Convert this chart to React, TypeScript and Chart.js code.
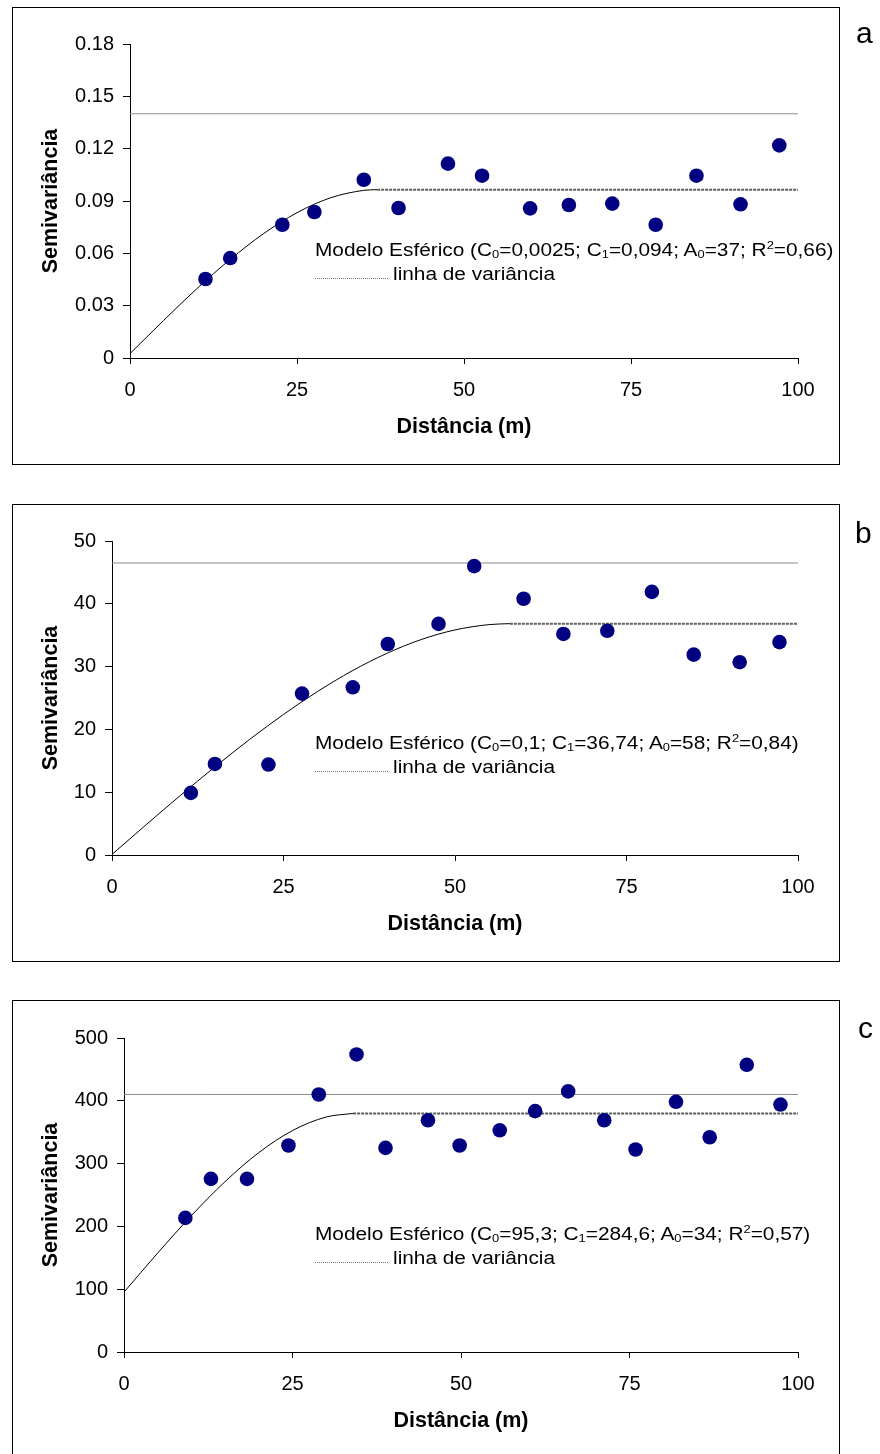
import React, { useEffect, useRef } from 'react';
import { Chart, registerables } from 'chart.js';

Chart.register(...registerables);

const FONT = '"Liberation Sans", Arial, Helvetica, sans-serif';

// Shared x axis (lag distance, m)
const xTicks = [0, 25, 50, 75, 100];

// ---------- Panel a ----------
const lagA = [11.3, 15.0, 22.8, 27.6, 35.0, 40.2, 47.6, 52.7, 59.9, 65.7, 72.2, 78.7, 84.8, 91.4, 97.2];
const semiA = [0.0453, 0.0573, 0.0764, 0.0837, 0.1022, 0.086, 0.1114, 0.1045, 0.0858, 0.0877, 0.0885, 0.0764, 0.1045, 0.0881, 0.1219];
const modelXA = [0, 5, 10, 15, 20, 25, 30, 35, 37];
const modelYA = [0.0025, 0.0214, 0.0397, 0.0565, 0.0713, 0.0833, 0.0918, 0.0961, 0.0965];
const rangeA = 37;
const sillA = 0.0965;
const varianceA = 0.14;
const yTicksA = [0, 0.03, 0.06, 0.09, 0.12, 0.15, 0.18];
const yLabelsA = ['0', '0.03', '0.06', '0.09', '0.12', '0.15', '0.18'];

// ---------- Panel b ----------
const lagB = [11.5, 15.0, 22.8, 27.7, 35.1, 40.2, 47.6, 52.8, 60.0, 65.8, 72.2, 78.7, 84.8, 91.5, 97.3];
const semiB = [9.9, 14.5, 14.4, 25.7, 26.7, 33.6, 36.8, 46.0, 40.8, 35.2, 35.7, 41.9, 31.9, 30.7, 33.9];
const modelXB = [0, 5, 10, 15, 20, 25, 30, 35, 40, 45, 50, 55, 58];
const modelYB = [0.1, 4.84, 9.51, 14.03, 18.35, 22.38, 26.06, 29.32, 32.08, 34.28, 35.84, 36.69, 36.84];
const rangeB = 58;
const sillB = 36.84;
const varianceB = 46.5;
const yTicksB = [0, 10, 20, 30, 40, 50];
const yLabelsB = ['0', '10', '20', '30', '40', '50'];

// ---------- Panel c ----------
const lagC = [9.1, 12.9, 18.25, 24.4, 28.9, 34.5, 38.8, 45.1, 49.8, 55.75, 61.0, 65.9, 71.25, 75.9, 81.9, 86.9, 92.4, 97.4];
const semiC = [213.5, 275.7, 275.7, 328.8, 410, 473.8, 325, 369, 328.8, 353, 383.5, 415, 369, 322.4, 398.4, 342, 457.3, 394];
const modelXC = [0, 5, 10, 15, 20, 25, 30, 34];
const modelYC = [95.3, 157.6, 217.2, 271.4, 317.5, 352.6, 374.2, 379.9];
const rangeC = 34;
const sillC = 379.9;
const varianceC = 410;
const yTicksC = [0, 100, 200, 300, 400, 500];
const yLabelsC = ['0', '100', '200', '300', '400', '500'];

type PanelCfg = {
  letter: string;
  boxTop: number;
  boxHeight: number;
  chartTop: number;
  chartLeft: number;
  plotHeight: number;
  lag: number[];
  semi: number[];
  modelX: number[];
  modelY: number[];
  range: number;
  sill: number;
  variance: number;
  yTicks: number[];
  yLabels: string[];
  legendBaseline: number;
  letterBaseline: number;
  letterLeft: number;
  legend: React.ReactNode;
};

const Sub = ({ children }: { children: React.ReactNode }) => (
  <span style={{ fontSize: '0.62em', verticalAlign: '-0.22em', lineHeight: 0 }}>{children}</span>
);
const Sup = ({ children }: { children: React.ReactNode }) => (
  <span style={{ fontSize: '0.62em', verticalAlign: '0.62em', lineHeight: 0 }}>{children}</span>
);

const panels: PanelCfg[] = [
  {
    letter: 'a', boxTop: 7, boxHeight: 458, chartTop: 44, chartLeft: 130, plotHeight: 314,
    lag: lagA, semi: semiA, modelX: modelXA, modelY: modelYA, range: rangeA, sill: sillA, variance: varianceA,
    yTicks: yTicksA, yLabels: yLabelsA, legendBaseline: 256, letterBaseline: 43.5, letterLeft: 856,
    legend: (<>Modelo Esférico (C<Sub>0</Sub>=0,0025; C<Sub>1</Sub>=0,094; A<Sub>0</Sub>=37; R<Sup>2</Sup>=0,66)</>),
  },
  {
    letter: 'b', boxTop: 504, boxHeight: 458, chartTop: 541, chartLeft: 112, plotHeight: 314,
    lag: lagB, semi: semiB, modelX: modelXB, modelY: modelYB, range: rangeB, sill: sillB, variance: varianceB,
    yTicks: yTicksB, yLabels: yLabelsB, legendBaseline: 749, letterBaseline: 543.5, letterLeft: 855,
    legend: (<>Modelo Esférico (C<Sub>0</Sub>=0,1; C<Sub>1</Sub>=36,74; A<Sub>0</Sub>=58; R<Sup>2</Sup>=0,84)</>),
  },
  {
    letter: 'c', boxTop: 1000, boxHeight: 470, chartTop: 1038, chartLeft: 124, plotHeight: 314,
    lag: lagC, semi: semiC, modelX: modelXC, modelY: modelYC, range: rangeC, sill: sillC, variance: varianceC,
    yTicks: yTicksC, yLabels: yLabelsC, legendBaseline: 1240, letterBaseline: 1038, letterLeft: 858,
    legend: (<>Modelo Esférico (C<Sub>0</Sub>=95,3; C<Sub>1</Sub>=284,6; A<Sub>0</Sub>=34; R<Sup>2</Sup>=0,57)</>),
  },
];

const PAD_TOP = 37;
const PAD_LEFT = 38;
const X_AXIS_H = 100;
const CHART_RIGHT = 798;
const W = 880;

function Panel({ cfg }: { cfg: PanelCfg }) {
  const ref = useRef<HTMLCanvasElement | null>(null);
  const canvasTop = cfg.chartTop - PAD_TOP;
  const canvasH = PAD_TOP + cfg.plotHeight + X_AXIS_H;

  useEffect(() => {
    if (!ref.current) return;
    const yMin = cfg.yTicks[0];
    const yMax = cfg.yTicks[cfg.yTicks.length - 1];
    const chart = new Chart(ref.current, {
      type: 'scatter',
      data: {
        datasets: [
          {
            label: 'Semivariância',
            data: cfg.lag.map((x, i) => ({ x, y: cfg.semi[i] })),
            backgroundColor: '#000080',
            borderColor: '#000080',
            pointRadius: 7.3,
            pointBorderWidth: 0,
            pointHoverRadius: 7.3,
          },
          {
            label: 'Modelo Esférico',
            data: cfg.modelX.map((x, i) => ({ x, y: cfg.modelY[i] })),
            showLine: true,
            borderColor: '#000000',
            borderWidth: 1,
            pointRadius: 0,
            cubicInterpolationMode: 'monotone',
            fill: false,
          },
          {
            label: 'Patamar',
            data: [{ x: cfg.range, y: cfg.sill }, { x: 100, y: cfg.sill }],
            showLine: true,
            borderColor: '#5e5e5e',
            borderWidth: 2,
            borderDash: [3, 1],
            pointRadius: 0,
            fill: false,
          },
          {
            label: 'linha de variância',
            data: [{ x: 0, y: cfg.variance }, { x: 100, y: cfg.variance }],
            showLine: true,
            borderColor: '#8c8c8c',
            borderWidth: 1,
            pointRadius: 0,
            fill: false,
          },
        ],
      },
      options: {
        animation: false,
        responsive: false,
        maintainAspectRatio: false,
        events: [],
        layout: { padding: { left: PAD_LEFT, right: W - CHART_RIGHT, top: PAD_TOP, bottom: 0 } },
        plugins: { legend: { display: false }, tooltip: { enabled: false } },
        scales: {
          x: {
            type: 'linear',
            min: 0,
            max: 100,
            afterBuildTicks: (s: any) => { s.ticks = xTicks.map((v) => ({ value: v })); },
            afterFit: (s: any) => { s.height = X_AXIS_H; },
            ticks: {
              font: { family: FONT, size: 20 },
              color: '#000',
              padding: 14,
              maxRotation: 0,
              autoSkip: false,
              callback: (v: any) => String(v),
            },
            grid: { drawOnChartArea: false, drawTicks: true, tickLength: 6, color: '#000', lineWidth: 1 },
            border: { display: true, color: '#000', width: 1 },
            title: {
              display: true,
              text: 'Distância (m)',
              color: '#000',
              font: { family: FONT, size: 21.5, weight: 'bold', lineHeight: 1.2 },
              padding: { top: 0, bottom: 18 },
            },
          },
          y: {
            type: 'linear',
            min: yMin,
            max: yMax,
            afterBuildTicks: (s: any) => { s.ticks = cfg.yTicks.map((v) => ({ value: v })); },
            afterFit: (s: any) => { s.width = cfg.chartLeft - PAD_LEFT; },
            ticks: {
              font: { family: FONT, size: 20 },
              color: '#000',
              padding: 9,
              autoSkip: false,
              callback: (v: any) => {
                const i = cfg.yTicks.findIndex((t) => Math.abs(t - v) < 1e-9);
                return i >= 0 ? cfg.yLabels[i] : '';
              },
            },
            grid: { drawOnChartArea: false, drawTicks: true, tickLength: 7, color: '#000', lineWidth: 1 },
            border: { display: true, color: '#000', width: 1 },
            title: {
              display: true,
              text: 'Semivariância',
              color: '#000',
              font: { family: FONT, size: 21.5, weight: 'bold', lineHeight: 1.2 },
              padding: { top: 0, bottom: 0 },
            },
          },
        },
      } as any,
    });
    return () => chart.destroy();
  }, [cfg]);

  const line2Baseline = cfg.legendBaseline + 23.5;
  const textStyle: React.CSSProperties = {
    position: 'absolute',
    fontFamily: FONT,
    fontSize: 17.5,
    lineHeight: '20px',
    color: '#000',
    whiteSpace: 'nowrap',
    transform: 'scaleX(1.19)',
    transformOrigin: 'left top',
  };

  return (
    <>
      <div
        style={{
          position: 'absolute',
          left: 12,
          top: cfg.boxTop,
          width: 828,
          height: cfg.boxHeight,
          border: '1.5px solid #000',
          boxSizing: 'border-box',
        }}
      />
      <canvas
        ref={ref}
        width={W}
        height={canvasH}
        style={{ position: 'absolute', left: 0, top: canvasTop, width: W, height: canvasH, display: 'block' }}
      />
      <div style={{ ...textStyle, left: 315, top: cfg.legendBaseline - 16 }}>{cfg.legend}</div>
      <div
        style={{
          position: 'absolute',
          left: 315,
          top: line2Baseline - 2,
          width: 73,
          height: 0,
          borderTop: '1.5px dotted #777',
        }}
      />
      <div style={{ ...textStyle, left: 393, top: line2Baseline - 16 }}>linha de variância</div>
      <div
        style={{
          position: 'absolute',
          left: cfg.letterLeft,
          top: cfg.letterBaseline - 25.4,
          fontFamily: FONT,
          fontSize: 30,
          lineHeight: '30px',
          color: '#000',
        }}
      >
        {cfg.letter}
      </div>
    </>
  );
}

export default function App() {
  return (
    <div
      style={{
        position: 'absolute',
        left: 0,
        top: 0,
        width: W,
        height: 1454,
        overflow: 'hidden',
        background: '#fff',
      }}
    >
      {panels.map((p) => (
        <Panel key={p.letter} cfg={p} />
      ))}
    </div>
  );
}
